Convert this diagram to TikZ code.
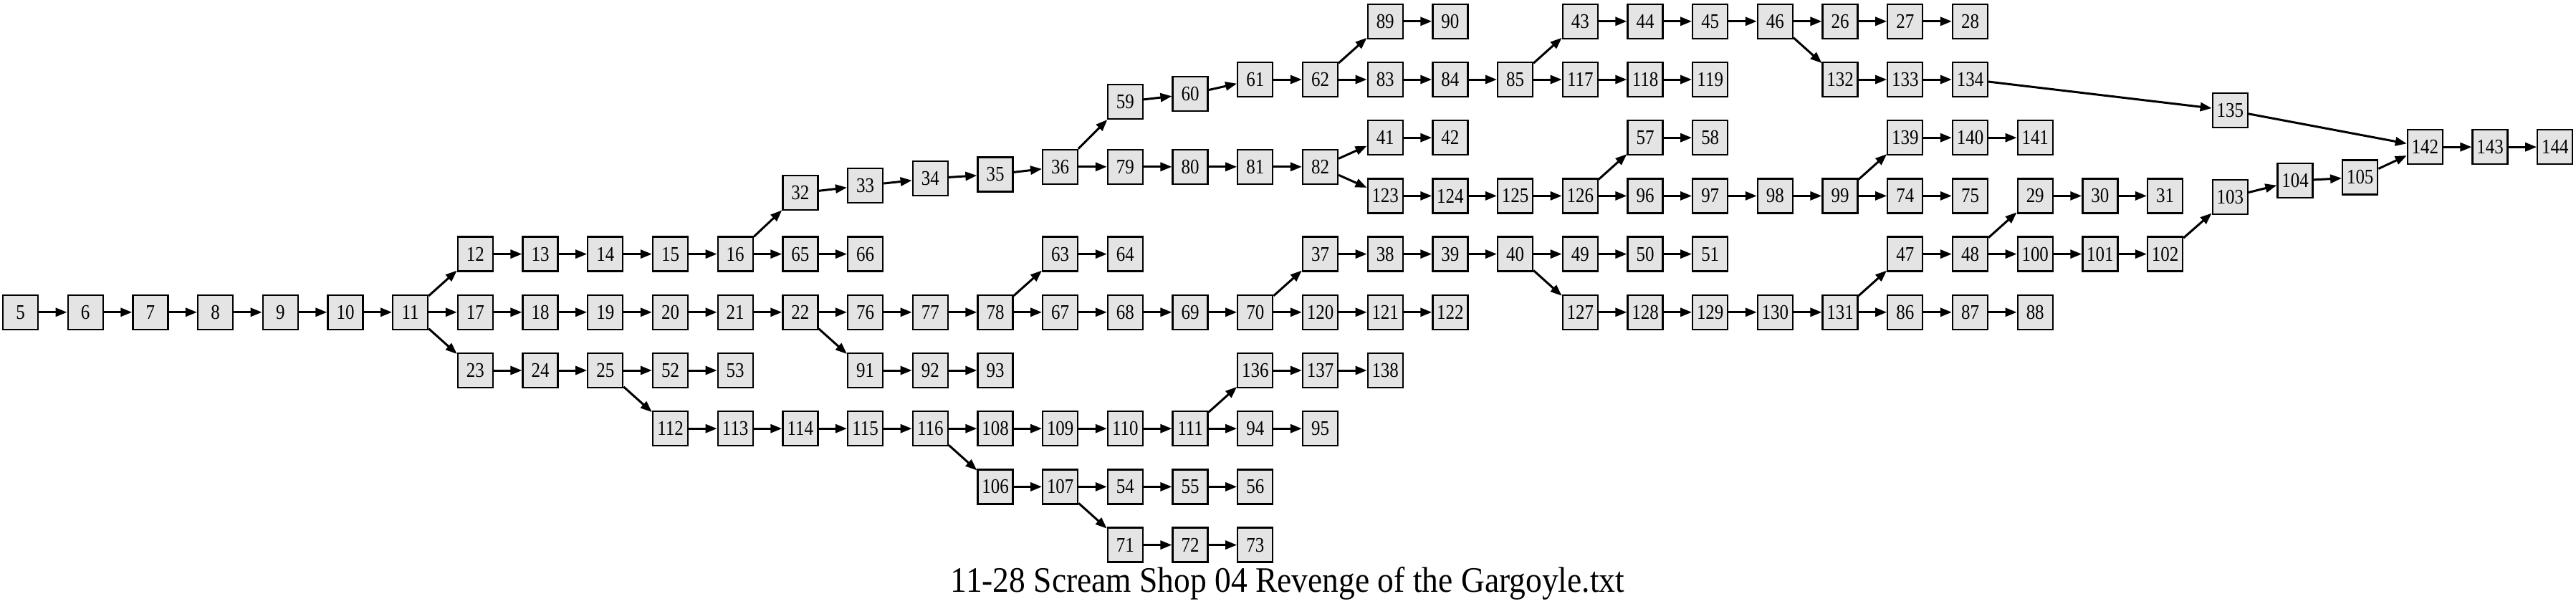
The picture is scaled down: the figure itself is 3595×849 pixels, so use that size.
\documentclass[tikz,border=0pt]{standalone}
\usepackage{fontspec}
\setmainfont{Liberation Serif}
\usetikzlibrary{arrows.meta}
\definecolor{nodefill}{HTML}{E4E4E4}
\tikzset{
  nd/.style={draw=black, line width=2.3pt, fill=nodefill, rectangle,
    minimum width=49pt, minimum height=48pt, inner sep=0pt,
    font=\fontsize{29}{29}\selectfont},
  edge/.style={line width=3pt, -{Triangle[length=16pt,width=12pt]}},
  title/.style={font=\fontsize{50}{50}\selectfont, anchor=base}
}
\newcommand\N[3]{\node[nd] (n#1) at ({28.5+90.7*#2},{29.8+81.2*#3}) {\scalebox{0.86}[1]{#1}};}
\begin{document}
\begin{tikzpicture}[x=1pt,y=-1pt]
\useasboundingbox (0,0) rectangle (3595,849);
% main chain
\N{5}{0}{5}\N{6}{1}{5}\N{7}{2}{5}\N{8}{3}{5}\N{9}{4}{5}\N{10}{5}{5}\N{11}{6}{5}
% upper branch
\N{12}{7}{4}\N{13}{8}{4}\N{14}{9}{4}\N{15}{10}{4}\N{16}{11}{4}
\N{65}{12}{4}\N{66}{13}{4}
\N{32}{12}{2.95}\N{33}{13}{2.82}\N{34}{14}{2.70}\N{35}{15}{2.63}\N{36}{16}{2.5}
\N{59}{17}{1.38}\N{60}{18}{1.25}\N{61}{19}{1}\N{62}{20}{1}
\N{89}{21}{0}\N{90}{22}{0}
\N{83}{21}{1}\N{84}{22}{1}\N{85}{23}{1}
\N{43}{24}{0}\N{44}{25}{0}\N{45}{26}{0}\N{46}{27}{0}
\N{26}{28}{0}\N{27}{29}{0}\N{28}{30}{0}
\N{132}{28}{1}\N{133}{29}{1}\N{134}{30}{1}
\N{117}{24}{1}\N{118}{25}{1}\N{119}{26}{1}
\N{135}{34}{1.53}
\N{79}{17}{2.5}\N{80}{18}{2.5}\N{81}{19}{2.5}\N{82}{20}{2.5}
\N{41}{21}{2}\N{42}{22}{2}
\N{123}{21}{3}\N{124}{22}{3}\N{125}{23}{3}\N{126}{24}{3}
\N{57}{25}{2}\N{58}{26}{2}
\N{96}{25}{3}\N{97}{26}{3}\N{98}{27}{3}\N{99}{28}{3}
\N{139}{29}{2}\N{140}{30}{2}\N{141}{31}{2}
\N{74}{29}{3}\N{75}{30}{3}
% middle branch
\N{17}{7}{5}\N{18}{8}{5}\N{19}{9}{5}\N{20}{10}{5}\N{21}{11}{5}\N{22}{12}{5}
\N{76}{13}{5}\N{77}{14}{5}\N{78}{15}{5}
\N{63}{16}{4}\N{64}{17}{4}
\N{67}{16}{5}\N{68}{17}{5}\N{69}{18}{5}\N{70}{19}{5}
\N{37}{20}{4}\N{38}{21}{4}\N{39}{22}{4}\N{40}{23}{4}
\N{49}{24}{4}\N{50}{25}{4}\N{51}{26}{4}
\N{127}{24}{5}\N{128}{25}{5}\N{129}{26}{5}\N{130}{27}{5}\N{131}{28}{5}
\N{47}{29}{4}\N{48}{30}{4}
\N{29}{31}{3}\N{30}{32}{3}\N{31}{33}{3}
\N{100}{31}{4}\N{101}{32}{4}\N{102}{33}{4}
\N{103}{34}{3.02}\N{104}{35}{2.74}\N{105}{36}{2.68}
\N{142}{37}{2.16}\N{143}{38}{2.16}\N{144}{39}{2.16}
\N{86}{29}{5}\N{87}{30}{5}\N{88}{31}{5}
\N{120}{20}{5}\N{121}{21}{5}\N{122}{22}{5}
\N{91}{13}{6}\N{92}{14}{6}\N{93}{15}{6}
% lower branch
\N{23}{7}{6}\N{24}{8}{6}\N{25}{9}{6}
\N{52}{10}{6}\N{53}{11}{6}
\N{112}{10}{7}\N{113}{11}{7}\N{114}{12}{7}\N{115}{13}{7}\N{116}{14}{7}
\N{108}{15}{7}\N{109}{16}{7}\N{110}{17}{7}\N{111}{18}{7}
\N{136}{19}{6}\N{137}{20}{6}\N{138}{21}{6}
\N{94}{19}{7}\N{95}{20}{7}
\N{106}{15}{8}\N{107}{16}{8}
\N{54}{17}{8}\N{55}{18}{8}\N{56}{19}{8}
\N{71}{17}{9}\N{72}{18}{9}\N{73}{19}{9}
% edges
\foreach \a/\b in {5/6,6/7,7/8,8/9,9/10,10/11,
  11/12,11/17,11/23,
  12/13,13/14,14/15,15/16,16/32,16/65,65/66,
  32/33,33/34,34/35,35/36,36/59,36/79,
  59/60,60/61,61/62,62/89,62/83,89/90,
  83/84,84/85,85/43,85/117,43/44,44/45,45/46,
  46/26,46/132,26/27,27/28,132/133,133/134,134/135,135/142,
  117/118,118/119,
  79/80,80/81,81/82,82/41,82/123,41/42,
  123/124,124/125,125/126,126/57,126/96,57/58,
  96/97,97/98,98/99,99/139,99/74,139/140,140/141,74/75,
  17/18,18/19,19/20,20/21,21/22,22/76,22/91,
  76/77,77/78,78/63,78/67,63/64,
  67/68,68/69,69/70,70/37,70/120,
  37/38,38/39,39/40,40/49,40/127,49/50,50/51,
  127/128,128/129,129/130,130/131,131/47,131/86,
  47/48,48/29,48/100,29/30,30/31,
  100/101,101/102,102/103,103/104,104/105,105/142,
  86/87,87/88,120/121,121/122,91/92,92/93,
  23/24,24/25,25/52,25/112,52/53,
  112/113,113/114,114/115,115/116,116/108,116/106,
  108/109,109/110,110/111,111/136,111/94,
  136/137,137/138,94/95,
  106/107,107/54,107/71,54/55,55/56,71/72,72/73,
  142/143,143/144}
  \draw[edge] (n\a) -- (n\b);
\node[title] (t) at (1797,826) {\scalebox{0.91}[1]{11-28 Scream Shop 04 Revenge of the Gargoyle.txt}};
\end{tikzpicture}
\end{document}
